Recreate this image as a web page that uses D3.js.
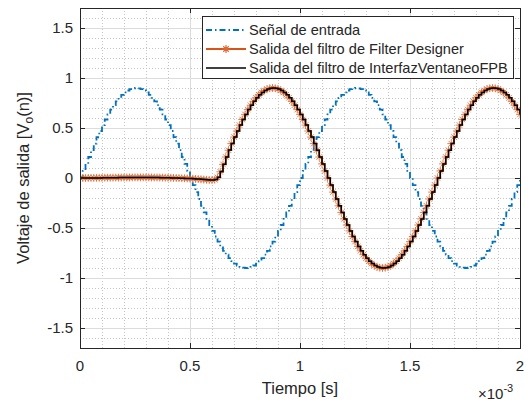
<!DOCTYPE html>
<html>
<head>
<meta charset="utf-8">
<script src="https://cdn.jsdelivr.net/npm/d3@7"></script>
<style>
  body { margin: 0; background: #fff; }
  text { font-family: "Liberation Sans", Arial, Helvetica, sans-serif; fill: #262626; }
</style>
</head>
<body>
<svg id="chart" width="532" height="404"></svg>
<script>
// Sampling rate of the discrete signals (Hz)
const sampleRate = 80000;

// Input sine, 1 kHz, amplitude 0.9 (samples 0..160)
const entrada = [
  0, 0.071, 0.141, 0.210, 0.278, 0.344, 0.409, 0.470, 0.529, 0.585,
  0.636, 0.684, 0.728, 0.767, 0.802, 0.832, 0.856, 0.875, 0.889, 0.897,
  0.900, 0.897, 0.889, 0.875, 0.856, 0.832, 0.802, 0.767, 0.728, 0.684,
  0.636, 0.585, 0.529, 0.470, 0.409, 0.344, 0.278, 0.210, 0.141, 0.071,
  0, -0.071, -0.141, -0.210, -0.278, -0.344, -0.409, -0.470, -0.529, -0.585,
  -0.636, -0.684, -0.728, -0.767, -0.802, -0.832, -0.856, -0.875, -0.889, -0.897,
  -0.900, -0.897, -0.889, -0.875, -0.856, -0.832, -0.802, -0.767, -0.728, -0.684,
  -0.636, -0.585, -0.529, -0.470, -0.409, -0.344, -0.278, -0.210, -0.141, -0.071,
  0, 0.071, 0.141, 0.210, 0.278, 0.344, 0.409, 0.470, 0.529, 0.585,
  0.636, 0.684, 0.728, 0.767, 0.802, 0.832, 0.856, 0.875, 0.889, 0.897,
  0.900, 0.897, 0.889, 0.875, 0.856, 0.832, 0.802, 0.767, 0.728, 0.684,
  0.636, 0.585, 0.529, 0.470, 0.409, 0.344, 0.278, 0.210, 0.141, 0.071,
  0, -0.071, -0.141, -0.210, -0.278, -0.344, -0.409, -0.470, -0.529, -0.585,
  -0.636, -0.684, -0.728, -0.767, -0.802, -0.832, -0.856, -0.875, -0.889, -0.897,
  -0.900, -0.897, -0.889, -0.875, -0.856, -0.832, -0.802, -0.767, -0.728, -0.684,
  -0.636, -0.585, -0.529, -0.470, -0.409, -0.344, -0.278, -0.210, -0.141, -0.071,
  0
];

// Output of the Filter Designer FIR (samples 0..160)
const salidaFilterDesigner = [
  0, 0.000, 0.000, 0.001, 0.001, 0.001, 0.002, 0.002, 0.002, 0.003,
  0.003, 0.003, 0.004, 0.004, 0.004, 0.005, 0.005, 0.005, 0.005, 0.006,
  0.006, 0.006, 0.006, 0.006, 0.006, 0.006, 0.005, 0.005, 0.005, 0.004,
  0.004, 0.003, 0.003, 0.002, 0.001, 0.000, -0.001, -0.002, -0.003, -0.004,
  -0.006, -0.007, -0.009, -0.011, -0.013, -0.016, -0.018, -0.020, -0.021, -0.017,
  0.006, 0.062, 0.136, 0.210, 0.278, 0.344, 0.409, 0.470, 0.529, 0.585,
  0.636, 0.684, 0.728, 0.767, 0.802, 0.832, 0.856, 0.875, 0.889, 0.897,
  0.900, 0.897, 0.889, 0.875, 0.856, 0.832, 0.802, 0.767, 0.728, 0.684,
  0.636, 0.585, 0.529, 0.470, 0.409, 0.344, 0.278, 0.210, 0.141, 0.071,
  0, -0.071, -0.141, -0.210, -0.278, -0.344, -0.409, -0.470, -0.529, -0.585,
  -0.636, -0.684, -0.728, -0.767, -0.802, -0.832, -0.856, -0.875, -0.889, -0.897,
  -0.900, -0.897, -0.889, -0.875, -0.856, -0.832, -0.802, -0.767, -0.728, -0.684,
  -0.636, -0.585, -0.529, -0.470, -0.409, -0.344, -0.278, -0.210, -0.141, -0.071,
  0, 0.071, 0.141, 0.210, 0.278, 0.344, 0.409, 0.470, 0.529, 0.585,
  0.636, 0.684, 0.728, 0.767, 0.802, 0.832, 0.856, 0.875, 0.889, 0.897,
  0.900, 0.897, 0.889, 0.875, 0.856, 0.832, 0.802, 0.767, 0.728, 0.684,
  0.636
];

// Output of the windowed FIR designed in InterfazVentaneoFPB (samples 0..160)
const salidaInterfaz = [
  0, 0.000, 0.000, 0.000, 0.000, 0.001, 0.001, 0.001, 0.002, 0.002,
  0.002, 0.003, 0.003, 0.003, 0.004, 0.004, 0.004, 0.004, 0.005, 0.005,
  0.005, 0.005, 0.005, 0.005, 0.005, 0.005, 0.004, 0.004, 0.004, 0.003,
  0.003, 0.002, 0.002, 0.001, 0.000, -0.001, -0.002, -0.003, -0.004, -0.005,
  -0.006, -0.008, -0.009, -0.011, -0.013, -0.015, -0.017, -0.019, -0.020, -0.016,
  0.008, 0.064, 0.138, 0.211, 0.279, 0.345, 0.409, 0.470, 0.529, 0.585,
  0.636, 0.684, 0.728, 0.767, 0.802, 0.832, 0.856, 0.875, 0.889, 0.897,
  0.900, 0.897, 0.889, 0.875, 0.856, 0.832, 0.802, 0.767, 0.728, 0.684,
  0.636, 0.585, 0.529, 0.470, 0.409, 0.344, 0.278, 0.210, 0.141, 0.071,
  0, -0.071, -0.141, -0.210, -0.278, -0.344, -0.409, -0.470, -0.529, -0.585,
  -0.636, -0.684, -0.728, -0.767, -0.802, -0.832, -0.856, -0.875, -0.889, -0.897,
  -0.900, -0.897, -0.889, -0.875, -0.856, -0.832, -0.802, -0.767, -0.728, -0.684,
  -0.636, -0.585, -0.529, -0.470, -0.409, -0.344, -0.278, -0.210, -0.141, -0.071,
  0, 0.071, 0.141, 0.210, 0.278, 0.344, 0.409, 0.470, 0.529, 0.585,
  0.636, 0.684, 0.728, 0.767, 0.802, 0.832, 0.856, 0.875, 0.889, 0.897,
  0.900, 0.897, 0.889, 0.875, 0.856, 0.832, 0.802, 0.767, 0.728, 0.684,
  0.636
];

const seriesNames = [
  "Señal de entrada",
  "Salida del filtro de Filter Designer",
  "Salida del filtro de InterfazVentaneoFPB"
];
const seriesColors = ["#0072BD", "#D95319", "#000000"];

const xTicks = [0, 0.5e-3, 1e-3, 1.5e-3, 2e-3];
const xTickLabels = ["0", "0.5", "1", "1.5", "2"];
const yTicks = [-1.5, -1, -0.5, 0, 0.5, 1, 1.5];
const yTickLabels = ["-1.5", "-1", "-0.5", "0", "0.5", "1", "1.5"];

const plot = { left: 80, right: 520, top: 8, bottom: 348 };
const axisColor = "#262626";

const svg = d3.select("#chart");
const x = d3.scaleLinear().domain([0, 2e-3]).range([plot.left, plot.right]);
const y = d3.scaleLinear().domain([-1.7, 1.7]).range([plot.bottom, plot.top]);

const toPoints = arr => arr.map((v, i) => ({ t: i / sampleRate, v }));

// clip region for data
svg.append("defs").append("clipPath").attr("id", "clip")
  .append("rect")
  .attr("x", plot.left).attr("y", plot.top)
  .attr("width", plot.right - plot.left).attr("height", plot.bottom - plot.top);

// minor grid
const xMinor = d3.range(0, 21).map(i => i * 1e-4).filter((d, i) => i % 5 !== 0);
const yMinor = d3.range(-17, 18).filter(i => i % 5 !== 0).map(i => i / 10);
const grid = svg.append("g");
grid.selectAll(".xm").data(xMinor).join("line")
  .attr("x1", d => Math.round(x(d)) + 0.5).attr("x2", d => Math.round(x(d)) + 0.5)
  .attr("y1", plot.top).attr("y2", plot.bottom)
  .attr("stroke", "#c4c4c4").attr("stroke-width", 1).attr("stroke-dasharray", "1,2");
grid.selectAll(".ym").data(yMinor).join("line")
  .attr("y1", d => Math.round(y(d)) + 0.5).attr("y2", d => Math.round(y(d)) + 0.5)
  .attr("x1", plot.left).attr("x2", plot.right)
  .attr("stroke", "#c4c4c4").attr("stroke-width", 1).attr("stroke-dasharray", "1,2");

// major grid
grid.selectAll(".xg").data(xTicks).join("line")
  .attr("x1", d => Math.round(x(d)) + 0.5).attr("x2", d => Math.round(x(d)) + 0.5)
  .attr("y1", plot.top).attr("y2", plot.bottom)
  .attr("stroke", "#dcdcdc").attr("stroke-width", 1);
grid.selectAll(".yg").data(yTicks).join("line")
  .attr("y1", d => Math.round(y(d)) + 0.5).attr("y2", d => Math.round(y(d)) + 0.5)
  .attr("x1", plot.left).attr("x2", plot.right)
  .attr("stroke", "#dcdcdc").attr("stroke-width", 1);

// data
const stair = d3.line().x(d => x(d.t)).y(d => y(d.v)).curve(d3.curveStepAfter);
const data = svg.append("g").attr("clip-path", "url(#clip)");

data.append("path").datum(toPoints(entrada))
  .attr("d", stair).attr("fill", "none")
  .attr("stroke", seriesColors[0]).attr("stroke-width", 1.8)
  .attr("stroke-dasharray", "6,3,1.5,3");

data.append("path").datum(toPoints(salidaFilterDesigner))
  .attr("d", stair).attr("fill", "none")
  .attr("stroke", seriesColors[1]).attr("stroke-width", 1.8);

const r = 3.9, a = r * 0.7071;
const starPath = `M${-r},0H${r}M0,${-r}V${r}M${-a},${-a}L${a},${a}M${-a},${a}L${a},${-a}`;
data.selectAll(".mk").data(toPoints(salidaFilterDesigner)).join("path")
  .attr("transform", d => `translate(${x(d.t)},${y(d.v)})`)
  .attr("d", starPath).attr("fill", "none")
  .attr("stroke", "#dd6a36").attr("stroke-width", 1).attr("stroke-opacity", 0.85);

data.append("path").datum(toPoints(salidaInterfaz))
  .attr("d", stair).attr("fill", "none")
  .attr("stroke", seriesColors[2]).attr("stroke-width", 1.5);

// axes box and ticks (all four sides, inward)
const tickLen = 5;
svg.append("rect")
  .attr("x", plot.left + 0.5).attr("y", plot.top + 0.5)
  .attr("width", plot.right - plot.left).attr("height", plot.bottom - plot.top)
  .attr("fill", "none").attr("stroke", axisColor).attr("stroke-width", 1);

const ticks = svg.append("g").attr("stroke", axisColor).attr("stroke-width", 1);
xTicks.forEach(d => {
  const px = Math.round(x(d)) + 0.5;
  ticks.append("line").attr("x1", px).attr("x2", px).attr("y1", plot.bottom).attr("y2", plot.bottom - tickLen);
  ticks.append("line").attr("x1", px).attr("x2", px).attr("y1", plot.top).attr("y2", plot.top + tickLen);
});
yTicks.forEach(d => {
  const py = Math.round(y(d)) + 0.5;
  ticks.append("line").attr("y1", py).attr("y2", py).attr("x1", plot.left).attr("x2", plot.left + tickLen);
  ticks.append("line").attr("y1", py).attr("y2", py).attr("x1", plot.right).attr("x2", plot.right - tickLen);
});

// tick labels
svg.append("g").selectAll("text").data(xTicks).join("text")
  .attr("x", d => x(d)).attr("y", plot.bottom + 23)
  .attr("text-anchor", "middle").attr("font-size", 15)
  .text((d, i) => xTickLabels[i]);
svg.append("g").selectAll("text").data(yTicks).join("text")
  .attr("x", plot.left - 7).attr("y", d => y(d) + 5)
  .attr("text-anchor", "end").attr("font-size", 15)
  .text((d, i) => yTickLabels[i]);

// exponent
const expo = svg.append("text").attr("x", 478).attr("y", 399).attr("font-size", 15);
expo.append("tspan").text("×10");
expo.append("tspan").attr("dy", -7).attr("font-size", 11).text("-3");

// axis labels
svg.append("text").attr("x", (plot.left + plot.right) / 2).attr("y", 394)
  .attr("text-anchor", "middle").attr("font-size", 16.5).text("Tiempo [s]");

const yl = svg.append("text")
  .attr("transform", `translate(29,${(plot.top + plot.bottom) / 2}) rotate(-90)`)
  .attr("text-anchor", "middle").attr("font-size", 16.5);
yl.append("tspan").text("Voltaje de salida [V");
yl.append("tspan").attr("dy", 4).attr("font-size", 12).text("o");
yl.append("tspan").attr("dy", -4).text("(n)]");

// legend
const lg = svg.append("g");
lg.append("rect").attr("x", 202.5).attr("y", 16.5).attr("width", 311).attr("height", 62)
  .attr("fill", "#fff").attr("stroke", axisColor).attr("stroke-width", 1);
const rowsY = [30, 49, 68];
seriesNames.forEach((name, i) => {
  const yy = rowsY[i];
  const ln = lg.append("line").attr("x1", 206).attr("x2", 246).attr("y1", yy).attr("y2", yy)
    .attr("stroke", seriesColors[i]).attr("stroke-width", i === 2 ? 1.6 : 1.8);
  if (i === 0) ln.attr("stroke-dasharray", "6,3,1.5,3");
  if (i === 1) {
    lg.append("path").attr("transform", `translate(226,${yy})`).attr("d", starPath)
      .attr("fill", "none").attr("stroke", "#dd6a36").attr("stroke-width", 1.2);
  }
  lg.append("text").attr("x", 249).attr("y", yy + 5).attr("font-size", 14.6).text(name);
});
</script>
</body>
</html>
